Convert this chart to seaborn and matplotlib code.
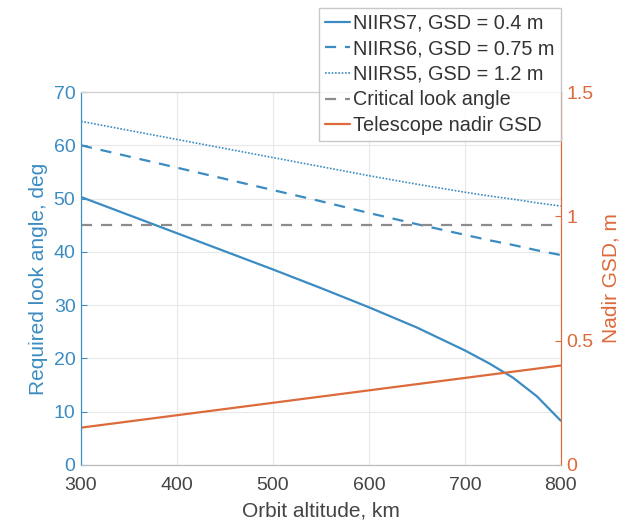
import numpy as np
import pandas as pd
import matplotlib
matplotlib.use("Agg")
import matplotlib.pyplot as plt
import seaborn as sns

# --- data ---
altitude = [300, 350, 400, 450, 500, 550, 600, 650, 700, 725, 750, 775, 800]
niirs7 = [50.3, 46.9, 43.5, 40.1, 36.7, 33.2, 29.6, 25.8, 21.5, 19.1, 16.4, 12.9, 8.3]
niirs6 = [60.0, 57.9, 55.8, 53.7, 51.6, 49.5, 47.3, 45.2, 43.2, 42.2, 41.3, 40.3, 39.4]
niirs5 = [64.5, 62.8, 61.1, 59.4, 57.7, 56.0, 54.3, 52.7, 51.2, 50.5, 49.9, 49.2, 48.6]
critical_angle = [45] * 13
nadir_gsd = [0.150, 0.175, 0.200, 0.225, 0.250, 0.275, 0.300, 0.325, 0.350, 0.3625, 0.375, 0.3875, 0.400]

blue = "#3b8cc2"
orange = "#dd6a3a"
grey = "#8c8c8c"

sns.set_style("white")
plt.rcParams["font.family"] = ["Liberation Sans", "DejaVu Sans"]

fig = plt.figure(figsize=(6.38, 5.23), dpi=100)
ax = fig.add_axes([0.127, 0.111, 0.752, 0.713])
ax2 = ax.twinx()

sns.lineplot(x=altitude, y=niirs7, ax=ax, color=blue, lw=1.6, label="NIIRS7, GSD = 0.4 m", legend=False)
sns.lineplot(x=altitude, y=niirs6, ax=ax, color=blue, lw=1.6, linestyle=(0, (5, 4)), label="NIIRS6, GSD = 0.75 m", legend=False)
sns.lineplot(x=altitude, y=niirs5, ax=ax, color=blue, lw=1.2, linestyle=(0, (1, 1)), label="NIIRS5, GSD = 1.2 m", legend=False)
sns.lineplot(x=altitude, y=critical_angle, ax=ax, color=grey, lw=1.6, linestyle=(0, (5, 4)), label="Critical look angle", legend=False)
sns.lineplot(x=altitude, y=nadir_gsd, ax=ax2, color=orange, lw=1.6, label="Telescope nadir GSD", legend=False)

ax.set_xlim(300, 800)
ax.set_ylim(0, 70)
ax2.set_ylim(0, 1.5)
ax.set_xticks([300, 400, 500, 600, 700, 800])
ax.set_yticks(range(0, 71, 10))
ax2.set_yticks([0, 0.5, 1, 1.5])
ax2.set_yticklabels(["0", "0.5", "1", "1.5"])

ax.grid(True, color="#e8e8e8", lw=0.8)
ax.set_axisbelow(True)

ax.tick_params(axis="x", colors="#444444", labelsize=14, direction="in", length=4, pad=9)
ax.tick_params(axis="y", colors=blue, labelsize=14, direction="in", length=4, pad=4)
ax2.tick_params(axis="y", colors=orange, labelsize=14, direction="in", length=4, pad=4)

for a in (ax, ax2):
    a.spines["top"].set_color("#d0d0d0")
    a.spines["bottom"].set_color("#bbbbbb")
    a.spines["left"].set_color(blue)
    a.spines["right"].set_color(orange)

ax.set_xlabel("Orbit altitude, km", fontsize=15, color="#444444", labelpad=5)
ax.set_ylabel("Required look angle, deg", fontsize=15, color=blue, labelpad=4)
ax2.set_ylabel("Nadir GSD, m", fontsize=15, color=orange, labelpad=6)

h1, l1 = ax.get_legend_handles_labels()
h2, l2 = ax2.get_legend_handles_labels()
leg = fig.legend(h1 + h2, l1 + l2, loc="upper right", bbox_to_anchor=(0.879, 0.985),
                 fontsize=14.3, frameon=True, fancybox=False, borderaxespad=0,
                 handlelength=1.3, handletextpad=0.15, labelspacing=0.33, borderpad=0.3)
leg.get_frame().set_edgecolor("#bbbbbb")
for t in leg.get_texts():
    t.set_color("#333333")

fig.savefig("out.png", dpi=100)
